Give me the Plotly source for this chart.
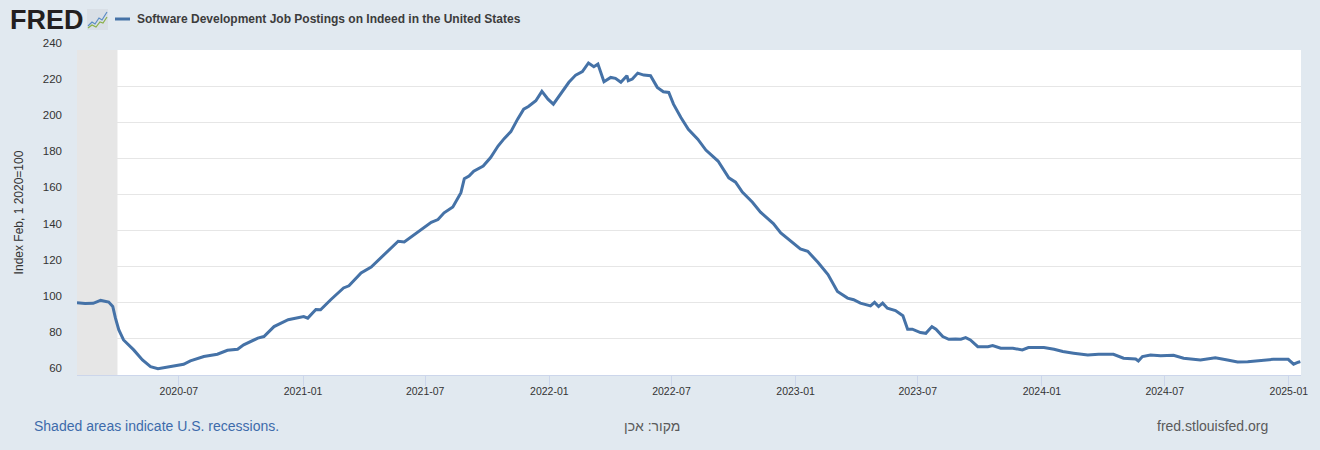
import plotly.graph_objects as go

dates = [
    "2020-02-01", "2020-02-13", "2020-02-25", "2020-03-07", "2020-03-19", "2020-03-25", "2020-03-29",
    "2020-04-03", "2020-04-10", "2020-04-25", "2020-05-08", "2020-05-20", "2020-05-31", "2020-06-15",
    "2020-07-01", "2020-07-08", "2020-07-18", "2020-08-07", "2020-08-27", "2020-09-11", "2020-09-26",
    "2020-10-05", "2020-10-26", "2020-11-04", "2020-11-19", "2020-12-10", "2021-01-02", "2021-01-08",
    "2021-01-20", "2021-01-27", "2021-02-11", "2021-03-02", "2021-03-10", "2021-03-28", "2021-04-12",
    "2021-05-07", "2021-05-22", "2021-05-31", "2021-06-21", "2021-07-10", "2021-07-20", "2021-07-29",
    "2021-08-11", "2021-08-16", "2021-08-23", "2021-08-28", "2021-09-04", "2021-09-11", "2021-09-25",
    "2021-10-06", "2021-10-17", "2021-10-26", "2021-11-05", "2021-11-15", "2021-11-24", "2021-12-01",
    "2021-12-12", "2021-12-21", "2021-12-30", "2022-01-07", "2022-01-21", "2022-01-30", "2022-02-09",
    "2022-02-19", "2022-02-28", "2022-03-08", "2022-03-14", "2022-03-23", "2022-04-02", "2022-04-09",
    "2022-04-17", "2022-04-26", "2022-04-28", "2022-05-04", "2022-05-12", "2022-05-21", "2022-05-31",
    "2022-06-10", "2022-06-19", "2022-06-27", "2022-07-04", "2022-07-15", "2022-07-26", "2022-08-09",
    "2022-08-21", "2022-09-08", "2022-09-24", "2022-10-04", "2022-10-14", "2022-10-29", "2022-11-10",
    "2022-11-29", "2022-12-10", "2022-12-29", "2023-01-08", "2023-01-19", "2023-02-03", "2023-02-18",
    "2023-03-04", "2023-03-19", "2023-03-28", "2023-04-07", "2023-04-22", "2023-04-28", "2023-05-04",
    "2023-05-10", "2023-05-17", "2023-05-29", "2023-06-09", "2023-06-16", "2023-06-23", "2023-07-05",
    "2023-07-13", "2023-07-22", "2023-07-28", "2023-08-07", "2023-08-16", "2023-08-26", "2023-09-03",
    "2023-09-10", "2023-09-17", "2023-09-28", "2023-10-13", "2023-10-20", "2023-11-01", "2023-11-19",
    "2023-12-03", "2023-12-12", "2024-01-04", "2024-01-19", "2024-02-01", "2024-02-17", "2024-03-09",
    "2024-03-25", "2024-04-16", "2024-05-01", "2024-05-19", "2024-05-23", "2024-05-29", "2024-06-10",
    "2024-06-25", "2024-07-14", "2024-07-29", "2024-08-23", "2024-09-14", "2024-10-02", "2024-10-17",
    "2024-11-01", "2024-11-23", "2024-12-09", "2024-12-31", "2025-01-04", "2025-01-08", "2025-01-15",
    "2025-01-18",
]
values = [
    100.0, 99.6, 99.7, 101.3, 100.4, 98.0, 91.5,
    85.0, 79.4, 73.9, 68.3, 64.6, 63.5, 64.5,
    65.2, 65.9, 67.8, 70.2, 71.5, 73.7, 74.3,
    76.7, 80.4, 81.3, 86.8, 90.6, 92.4, 91.5,
    96.3, 96.1, 101.7, 108.2, 109.4, 116.5, 119.8,
    128.5, 134.1, 133.7, 139.6, 144.6, 146.1, 149.8,
    153.1, 156.3, 161.0, 168.7, 170.2, 172.9, 175.7,
    180.4, 186.8, 190.9, 194.8, 201.7, 207.2, 208.7,
    211.9, 217.1, 212.8, 210.0, 217.4, 222.1, 226.1,
    228.0, 232.8, 230.7, 232.2, 222.4, 224.8, 224.3,
    222.1, 225.8, 223.0, 223.9, 227.2, 226.1, 225.8,
    219.3, 216.9, 216.5, 210.0, 202.6, 196.1, 190.6,
    184.6, 178.5, 169.2, 166.8, 161.3, 155.7, 150.2,
    143.9, 138.7, 133.2, 129.8, 128.5, 122.4, 115.6,
    106.3, 102.6, 101.7, 99.8, 98.3, 100.2, 97.9,
    99.8, 97.0, 95.7, 92.8, 85.4, 85.4, 83.5,
    83.1, 86.8, 85.4, 81.3, 79.8, 80.0, 79.8,
    80.7, 79.4, 75.7, 75.7, 76.3, 74.8, 74.8,
    73.9, 75.2, 75.2, 74.3, 73.0, 72.1, 71.1,
    71.5, 71.5, 69.3, 68.9, 67.8, 70.2, 71.1,
    70.7, 70.9, 69.3, 68.3, 69.6, 68.3, 67.2,
    67.4, 68.3, 68.7, 68.7, 67.1, 66.0, 67.1,
    67.4,
]
recession_start = "2020-02-01"
recession_end = "2020-04-01"
series_name = "Software Development Job Postings on Indeed in the United States"
y_title = "Index Feb, 1 2020=100"
y_ticks = [60, 80, 100, 120, 140, 160, 180, 200, 220, 240]

W, H = 1320, 450
ML, MR, MT, MB = 77, 19, 50, 75
PW, PH = W - ML - MR, H - MT - MB


def px(x):
    return (x - ML) / PW


def py(y):
    return (H - MB - y) / PH


def path(points):
    return "M " + " L ".join(f"{px(a)},{py(b)}" for a, b in points)


FONT = "Liberation Sans, Arial, sans-serif"

fig = go.Figure()
fig.add_trace(go.Scatter(x=dates, y=values, mode="lines", name=series_name,
                         line=dict(color="#4572a7", width=3), showlegend=False,
                         hoverinfo="x+y"))

shapes = [
    # recession band
    dict(type="rect", xref="x", yref="paper", x0=recession_start, x1=recession_end,
         y0=0, y1=1, fillcolor="#e6e6e6", line=dict(width=0), layer="below"),
    # legend swatch
    dict(type="line", xref="paper", yref="paper", x0=px(115), x1=px(130),
         y0=py(19), y1=py(19), line=dict(color="#4572a7", width=3), layer="above"),
    # FRED graph icon
    dict(type="rect", xref="paper", yref="paper", x0=px(87), x1=px(108),
         y0=py(9), y1=py(30), fillcolor="#d9dfe6", line=dict(width=0), layer="above"),
    dict(type="path", xref="paper", yref="paper",
         path=path([(88, 26), (92, 22), (95, 24), (99, 18), (102, 20), (107, 12)]),
         line=dict(color="#5b8cc4", width=1.2), layer="above"),
    dict(type="path", xref="paper", yref="paper",
         path=path([(88, 28), (92, 25), (96, 27), (100, 22), (103, 23), (107, 17)]),
         line=dict(color="#8ab04a", width=1.2), layer="above"),
]

annotations = [
    dict(text="<b>FRED</b>", xref="paper", yref="paper", x=px(8), y=py(20), xanchor="left",
         yanchor="middle", showarrow=False, font=dict(family=FONT, size=27, color="#231f20")),
    dict(text="<b>" + series_name + "</b>", xref="paper", yref="paper", x=px(135), y=py(19),
         xanchor="left", yanchor="middle", showarrow=False,
         font=dict(family=FONT, size=12, color="#3c3c3c")),
    dict(text="Shaded areas indicate U.S. recessions.", xref="paper", yref="paper", x=px(32),
         y=py(426), xanchor="left", yanchor="middle", showarrow=False,
         font=dict(family=FONT, size=14, color="#3d6bab")),
    dict(text="מקור: אכן", xref="paper", yref="paper", x=px(652), y=py(426), xanchor="center",
         yanchor="middle", showarrow=False, font=dict(family=FONT, size=14, color="#5a5a5a")),
    dict(text="fred.stlouisfed.org", xref="paper", yref="paper", x=px(1270), y=py(426),
         xanchor="right", yanchor="middle", showarrow=False,
         font=dict(family=FONT, size=14, color="#5a5a5a")),
]

fig.update_layout(
    width=W, height=H,
    margin=dict(l=ML, r=MR, t=MT, b=MB, pad=0),
    paper_bgcolor="#e1e9f0", plot_bgcolor="#ffffff",
    font=dict(family=FONT, size=12, color="#333333"),
    shapes=shapes, annotations=annotations,
    showlegend=False,
)
fig.update_xaxes(
    range=["2020-02-01", "2025-01-19"], type="date",
    tick0="2020-01-01", dtick="M6", tickformat="%Y-%m",
    showgrid=False, showline=True, linecolor="#ccd6eb", linewidth=1,
    ticks="outside", ticklen=10, tickcolor="#ccd6eb",
    ticklabelstandoff=-4,
    tickfont=dict(family=FONT, size=10.5, color="#333333"), zeroline=False,
)
fig.update_yaxes(
    range=[60, 240], tickvals=y_ticks, showgrid=True, gridcolor="#e6e6e6", gridwidth=1,
    zeroline=False, showline=False, ticks="", ticklabelshift=-7, ticklabelstandoff=14,
    tickfont=dict(family=FONT, size=11.5, color="#333333"),
    title=dict(text=y_title, font=dict(family=FONT, size=12, color="#333333"), standoff=16),
)

fig.write_html("out.html", config={"displayModeBar": False},
               post_script="document.body.style.margin='0';document.body.style.overflow='hidden';")
